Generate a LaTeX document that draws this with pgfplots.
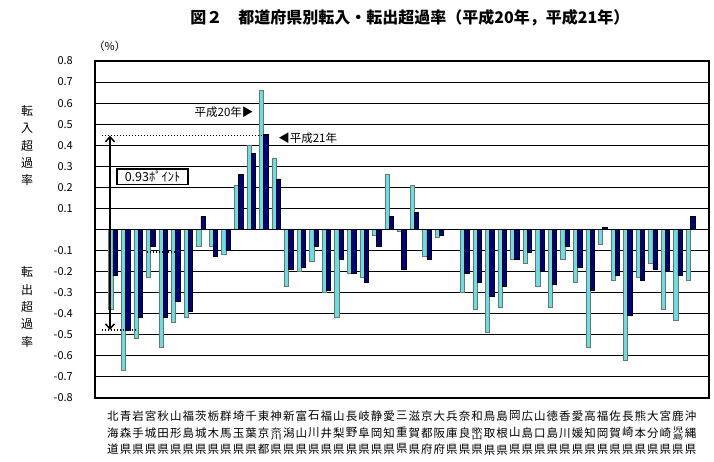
\documentclass[border=0pt]{standalone}
\usepackage{fontspec}
\setmainfont{Noto Sans CJK JP}
\usepackage{graphicx}
\usepackage{pgfplots}
\usepackage{pgfplotstable}
\pgfplotsset{compat=1.18}
\usetikzlibrary{arrows.meta}
\definecolor{cy}{RGB}{100,225,225}
\definecolor{nv}{RGB}{0,0,128}
\newcommand{\sq}[2]{\raisebox{-0.16em}[0.84em][0.16em]{\vbox{\offinterlineskip\hbox to 1em{\hss\scalebox{0.95}[0.58]{#1}\hss}\hbox to 1em{\hss\scalebox{0.95}[0.58]{#2}\hss}}}}

\pgfplotstableread{
i h20 h21
0 -0.38 -0.22
1 -0.67 -0.48
2 -0.52 -0.42
3 -0.23 -0.08
4 -0.56 -0.42
5 -0.44 -0.34
6 -0.42 -0.39
7 -0.08 0.06
8 -0.08 -0.13
9 -0.12 -0.10
10 0.21 0.26
11 0.40 0.36
12 0.66 0.45
13 0.34 0.24
14 -0.27 -0.19
15 -0.20 -0.18
16 -0.15 -0.08
17 -0.30 -0.29
18 -0.42 -0.14
19 -0.21 -0.21
20 -0.23 -0.25
21 -0.03 -0.08
22 0.26 0.06
23 -0.01 -0.19
24 0.21 0.08
25 -0.13 -0.14
26 -0.04 -0.03
27 0.00 0.00
28 -0.30 -0.21
29 -0.38 -0.25
30 -0.49 -0.32
31 -0.37 -0.27
32 -0.14 -0.14
33 -0.16 -0.11
34 -0.27 -0.20
35 -0.37 -0.26
36 -0.14 -0.08
37 -0.25 -0.18
38 -0.56 -0.29
39 -0.07 0.01
40 -0.24 -0.22
41 -0.62 -0.41
42 -0.23 -0.24
43 -0.16 -0.19
44 -0.38 -0.20
45 -0.43 -0.22
46 -0.24 0.06
}\data

\begin{document}
\begin{tikzpicture}
\begin{axis}[
  scale only axis, width=614pt, height=336.7pt,
  xmin=-1.434, xmax=47.47, ymin=-0.8, ymax=0.8,
  ybar=0pt, bar width=4.3pt,
  xtick={0,...,46},
  xticklabels={{北\\海\\道},{青\\森\\県},{岩\\手\\県},{宮\\城\\県},{秋\\田\\県},{山\\形\\県},{福\\島\\県},{茨\\城\\県},{栃\\木\\県},{群\\馬\\県},{埼\\玉\\県},{千\\葉\\県},{東\\京\\都},{神\\\sq{奈}{川}\\県},{新\\潟\\県},{富\\山\\県},{石\\川\\県},{福\\井\\県},{山\\梨\\県},{長\\野\\県},{岐\\阜\\県},{静\\岡\\県},{愛\\知\\県},{三\\重\\県},{滋\\賀\\県},{京\\都\\府},{大\\阪\\府},{兵\\庫\\県},{奈\\良\\県},{和\\\sq{歌}{山}\\県},{鳥\\取\\県},{島\\根\\県},{岡\\山\\県},{広\\島\\県},{山\\口\\県},{徳\\島\\県},{香\\川\\県},{愛\\媛\\県},{高\\知\\県},{福\\岡\\県},{佐\\賀\\県},{長\\崎\\県},{熊\\本\\県},{大\\分\\県},{宮\\崎\\県},{鹿\\\sq{児}{島}\\県},{沖\\縄\\県}},
  xticklabel style={font=\fontsize{11.5}{16.7}\selectfont, align=center, anchor=north, inner sep=0pt, yshift=-13pt},
  ytick={-0.8,-0.7,-0.6,-0.5,-0.4,-0.3,-0.2,-0.1,0,0.1,0.2,0.3,0.4,0.5,0.6,0.7,0.8},
  yticklabels={-0.8,-0.7,-0.6,-0.5,-0.4,-0.3,-0.2,-0.1,,0.1,0.2,0.3,0.4,0.5,0.6,0.7,0.8},
  yticklabel style={font=\fontsize{11}{13}\selectfont, anchor=east, inner sep=0pt, xshift=-22pt},
  ymajorgrids, grid style={black, line width=0.8pt},
  axis line style={line width=1.6pt},
  major tick length=0pt,
  clip=false,
]
\addplot[fill=cy, draw=black!55, line width=0.6pt] table[x=i,y=h20]{\data};
\addplot[fill=nv, draw=black, line width=0.6pt] table[x=i,y=h21]{\data};
\draw[line width=1.6pt] (axis cs:-1.434,0) -- (axis cs:47.47,0);
% annotations
\draw[line width=1.5pt, dash pattern=on 1.5pt off 1.5pt] (axis cs:-0.9,0.445) -- (axis cs:12.35,0.445);
\draw[line width=1.5pt, dash pattern=on 1.5pt off 1.5pt] (axis cs:-0.9,-0.478) -- (axis cs:1.75,-0.478);
\draw[line width=1.5pt, dash pattern=on 1.5pt off 1.5pt] (axis cs:2.7,-0.108) -- (axis cs:4.95,-0.108);
\draw[line width=1.5pt, {Straight Barb[length=5pt,width=9pt]}-{Straight Barb[length=5pt,width=9pt]}] (axis cs:-0.24,0.445) -- (axis cs:-0.24,-0.478);
\node[draw, line width=1.5pt, fill=white, minimum width=71pt, minimum height=15pt, inner sep=1pt, font=\fontsize{12.5}{13}\selectfont] at (axis cs:3.15,0.25) {0.93ﾎﾟｲﾝﾄ};
\node[anchor=east, inner sep=0pt, font=\fontsize{11.5}{13}\selectfont] at (axis cs:11.2,0.555) {平成20年▶};
\node[anchor=west, inner sep=0pt, font=\fontsize{11.5}{13}\selectfont] at (axis cs:13.15,0.433) {◀平成21年};
% titles
\node[font=\fontsize{16}{18}\selectfont\bfseries] at (rel axis cs:0.513,1.1277) {図２　都道府県別転入・転出超過率（平成20年，平成21年）};
\node[font=\fontsize{11}{13}\selectfont] at (rel axis cs:0.024,1.0445) {（\%）};
\node[align=center, font=\fontsize{12}{17.3}\selectfont] at (rel axis cs:-0.1107,0.749) {転\\入\\超\\過\\率};
\node[align=center, font=\fontsize{12}{17.3}\selectfont] at (rel axis cs:-0.1107,0.2694) {転\\出\\超\\過\\率};
\coordinate (BL) at (rel axis cs:-0.1547,-0.188);
\coordinate (TR) at (rel axis cs:1.00814,1.1812);
\end{axis}
\pgfresetboundingbox
\path (BL) rectangle (TR);
\end{tikzpicture}
\end{document}
